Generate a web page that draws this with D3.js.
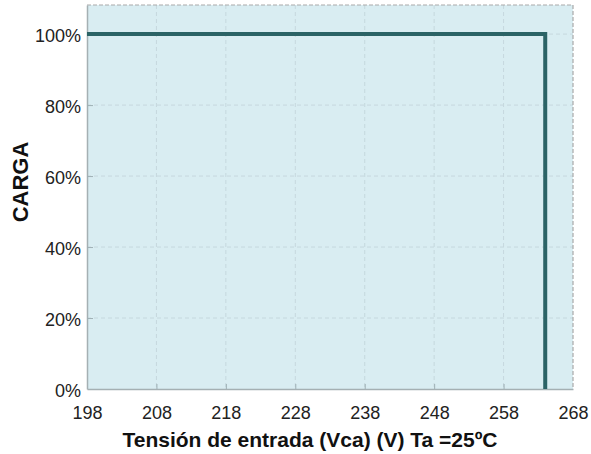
<!DOCTYPE html>
<html>
<head>
<meta charset="utf-8">
<script src="https://cdn.jsdelivr.net/npm/d3@7"></script>
<style>
  body { margin: 0; background: #fff; }
  svg { font-family: "Liberation Sans", Arial, sans-serif; }
</style>
</head>
<body>
<svg id="chart" width="591" height="454"></svg>
<script>
  // data
  var voltage = [198, 264, 264];
  var load = [100, 100, 0];
  var xTicks = [198, 208, 218, 228, 238, 248, 258, 268];
  var yTicks = [0, 20, 40, 60, 80, 100];

(function () {
  'use strict';
  var svg = d3.select('#chart');
  var plotLeft = 87, plotRight = 573, plotTop = 5, plotBottom = 389;

  var x = d3.scaleLinear().domain([198, 268]).range([plotLeft, plotRight]);
  var y = d3.scaleLinear().domain([0, 108.2]).range([plotBottom, plotTop]);

  // plot background
  svg.append('rect')
    .attr('x', plotLeft).attr('y', plotTop)
    .attr('width', plotRight - plotLeft).attr('height', plotBottom - plotTop)
    .attr('fill', '#d9edf2');

  // grid
  svg.append('g').selectAll('line')
    .data(xTicks.slice(1, -1))
    .enter().append('line')
    .attr('x1', function (d) { return x(d); })
    .attr('x2', function (d) { return x(d); })
    .attr('y1', plotTop).attr('y2', plotBottom)
    .attr('stroke', '#c6d8de').attr('stroke-width', 1)
    .attr('stroke-dasharray', '4,3');
  svg.append('g').selectAll('line')
    .data(yTicks.slice(1))
    .enter().append('line')
    .attr('x1', plotLeft).attr('x2', plotRight)
    .attr('y1', function (d) { return y(d); })
    .attr('y2', function (d) { return y(d); })
    .attr('stroke', '#c6d8de').attr('stroke-width', 1)
    .attr('stroke-dasharray', '4,3');

  // dashed top / right border
  svg.append('path')
    .attr('d', 'M' + plotLeft + ',' + plotTop + 'H' + plotRight + 'V' + plotBottom)
    .attr('fill', 'none').attr('stroke', '#a9a9a9')
    .attr('stroke-width', 1.2).attr('stroke-dasharray', '4,2');

  // axes
  var xAxis = d3.axisBottom(x).tickValues(xTicks).tickSizeInner(-5).tickSizeOuter(0).tickPadding(17);
  var gx = svg.append('g').attr('transform', 'translate(0,' + plotBottom + ')').call(xAxis);
  var yAxis = d3.axisLeft(y).tickValues(yTicks).tickSizeInner(-6).tickSizeOuter(0).tickPadding(6)
    .tickFormat(function (d) { return d + '%'; });
  var gy = svg.append('g').attr('transform', 'translate(' + plotLeft + ',0)').call(yAxis);

  [gx, gy].forEach(function (g) {
    g.select('.domain').attr('stroke', '#a5b0b3').attr('stroke-width', 1.5);
    g.selectAll('.tick line').attr('stroke', '#9fb0b5');
    g.selectAll('.tick text').attr('font-size', 18).attr('fill', '#222')
      .attr('font-family', '"Liberation Sans", Arial, sans-serif');
  });
  gx.selectAll('.tick line').filter(function (d) { return d === 198 || d === 268; }).remove();
  gy.selectAll('.tick line').filter(function (d) { return d === 0; }).remove();
  gy.selectAll('.tick text').attr('dy', '0.4em');

  // line
  var line = d3.line()
    .x(function (d, i) { return x(voltage[i]); })
    .y(function (d, i) { return y(load[i]); });
  svg.append('path')
    .datum(voltage)
    .attr('d', line)
    .attr('fill', 'none')
    .attr('stroke', '#2b6366')
    .attr('stroke-width', 4)
    .attr('stroke-linejoin', 'miter');

  // titles
  svg.append('text')
    .attr('x', 310).attr('y', 447)
    .attr('text-anchor', 'middle')
    .attr('font-size', 21).attr('font-weight', 'bold').attr('fill', '#111')
    .text('Tensión de entrada (Vca) (V) Ta =25ºC');
  svg.append('text')
    .attr('transform', 'translate(28,182) rotate(-90)')
    .attr('text-anchor', 'middle')
    .attr('font-size', 22).attr('font-weight', 'bold').attr('fill', '#111')
    .text('CARGA');
})();
</script>
</body>
</html>
